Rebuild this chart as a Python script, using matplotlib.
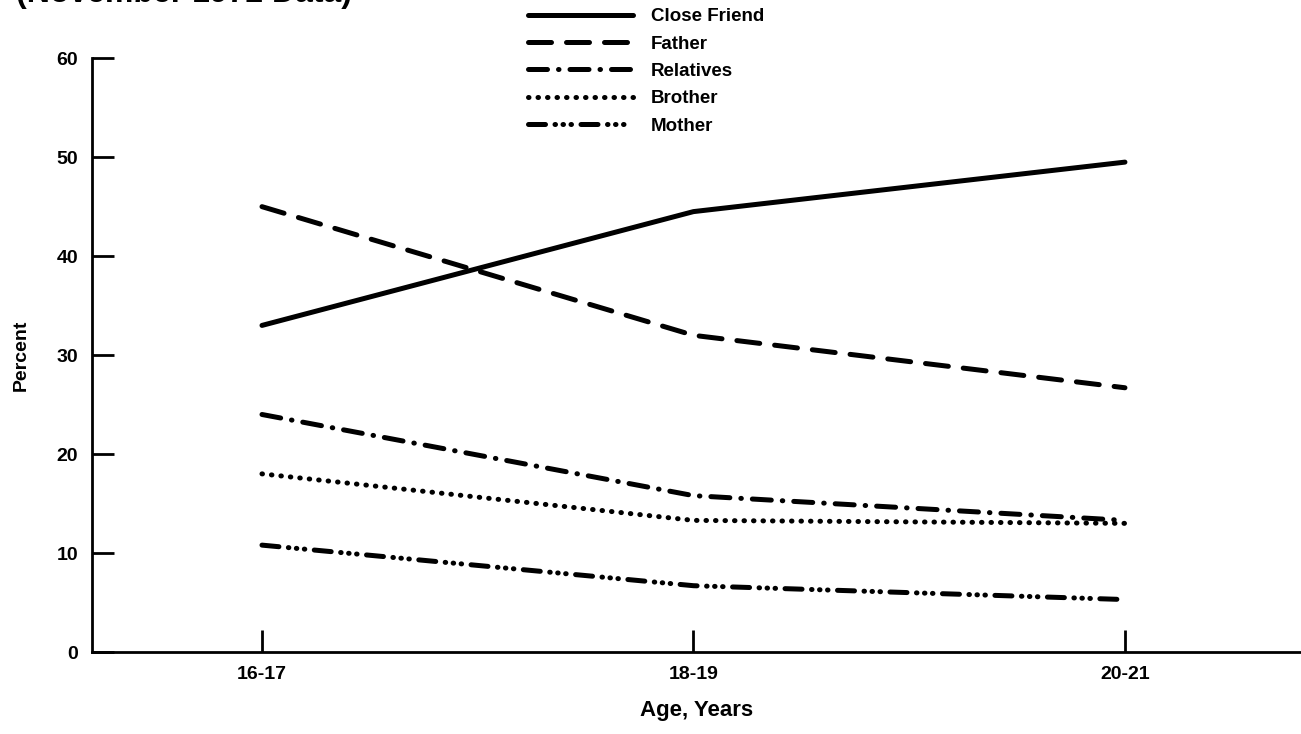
import matplotlib
matplotlib.use('Agg')
import matplotlib.pyplot as plt

# Data (percent)
ages = ['16-17', '18-19', '20-21']
close_friend = [33.0, 44.5, 49.5]
father = [45.0, 32.0, 26.7]
relatives = [24.0, 15.8, 13.3]
brother = [18.0, 13.3, 13.0]
mother = [10.8, 6.7, 5.3]

plt.rcParams['font.family'] = ['Liberation Sans', 'DejaVu Sans']
plt.rcParams['font.weight'] = 'bold'

fig = plt.figure(figsize=(13.01, 7.34), dpi=100)
ax = fig.add_axes([0.0707, 0.1117, 0.9293, 0.809])

x = range(len(ages))
lw = 3.6
style = dict(color='black', linewidth=lw, dash_capstyle='round', solid_capstyle='round')
ax.plot(x, close_friend, label='Close Friend', **style)
ax.plot(x, father, label='Father', dashes=(4.6, 3.0), **style)
ax.plot(x, relatives, label='Relatives', dashes=(3.8, 2.2, 0.1, 2.2), **style)
ax.plot(x, brother, label='Brother', dashes=(0.1, 1.8), **style)
ax.plot(x, mother, label='Mother', dashes=(3.4, 1.9, 0.1, 1.5, 0.1, 1.5, 0.1, 1.9), **style)

ax.set_xlim(-0.394, 2.408)
ax.set_ylim(0, 60)
ax.set_xticks(list(x))
ax.set_xticklabels(ages)
ax.set_yticks(range(0, 61, 10))

for side in ['top', 'right']:
    ax.spines[side].set_visible(False)
for side in ['left', 'bottom']:
    ax.spines[side].set_linewidth(2.0)

ax.tick_params(axis='both', direction='in', length=16, width=2.0, labelsize=14)
ax.tick_params(axis='x', pad=10)
ax.tick_params(axis='y', pad=10)

ax.set_xlabel('Age, Years', fontsize=16, fontweight='bold', labelpad=12)
ax.set_ylabel('Percent', fontsize=14, fontweight='bold', labelpad=19)

# title is cut off by the top edge in the original scan
fig.text(0.012, 1.0 + 6 / 734, '(November 1972 Data)', fontsize=23, fontweight='bold',
         ha='left', va='center')

fig.legend(loc='upper left', bbox_to_anchor=(528 / 1301, 1 - 8 / 734),
           frameon=False, fontsize=13.5, handlelength=5.6, handletextpad=0.95,
           labelspacing=0.55, borderpad=0, borderaxespad=0)

fig.savefig('out.png', dpi=100)
